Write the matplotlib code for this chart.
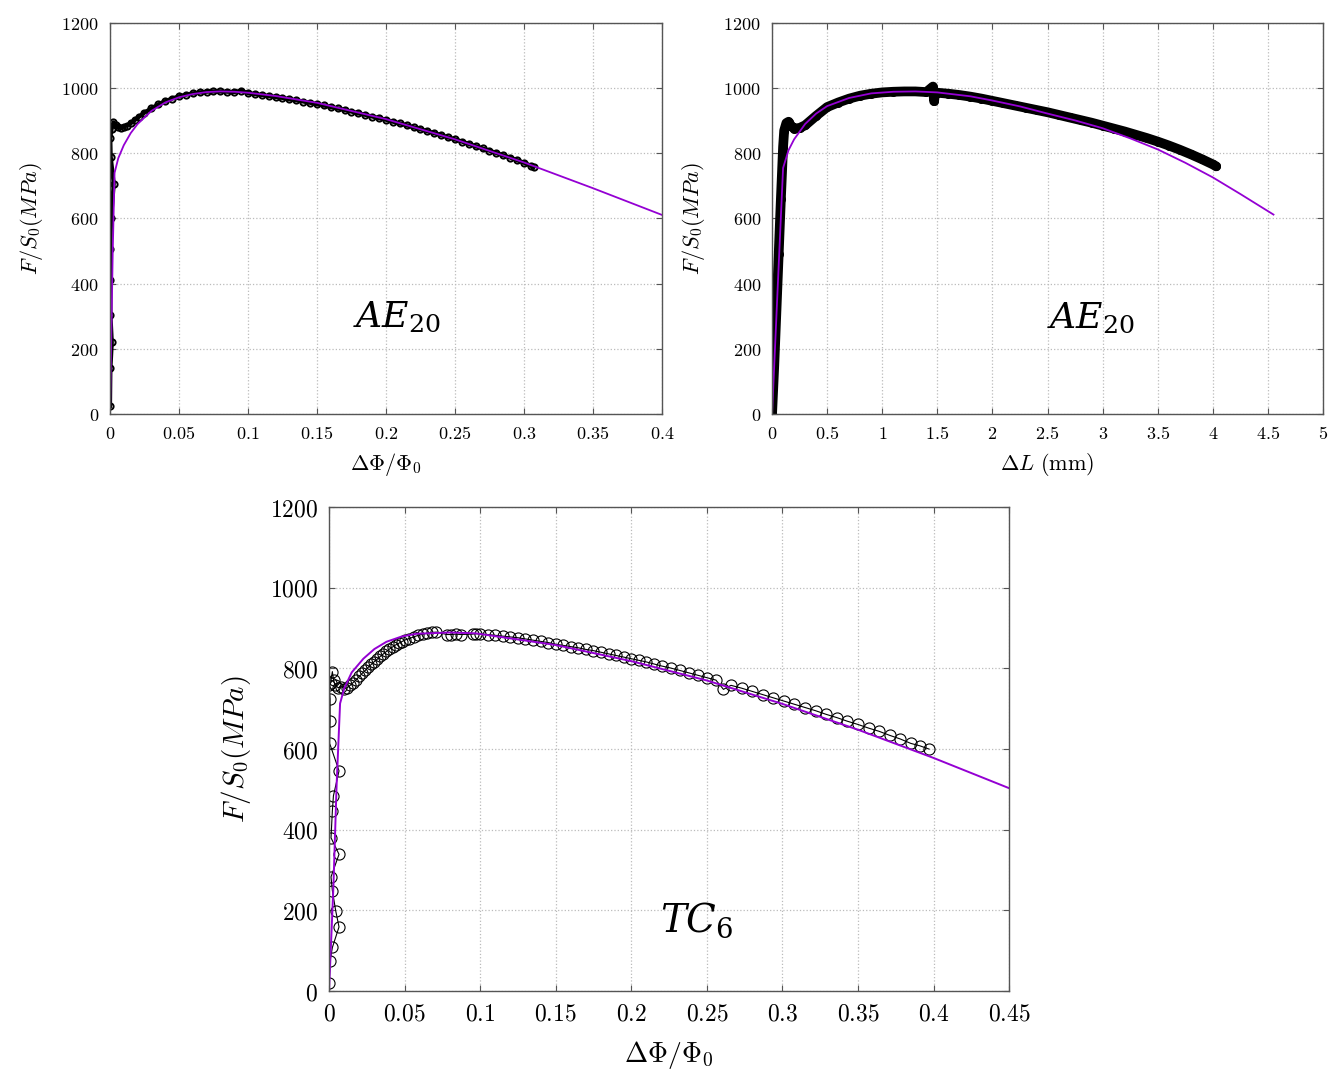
import numpy as np
import matplotlib.pyplot as plt
from matplotlib.ticker import FuncFormatter, MultipleLocator

plt.rcParams["mathtext.fontset"] = "cm"
plt.rcParams["font.family"] = ["DejaVu Serif"]

PURPLE = "#9400d3"

# AE20, strain in dPhi/Phi0 (measured)
ae_phi_x = [0.0, 0.0003, 0.0013, 0.0003, 0.0002, 0.0002, 0.0008, 0.0027, 0.0005, 0.0002, 0.0012, 0.0025,
            0.004, 0.006, 0.008, 0.010, 0.012, 0.015, 0.018, 0.021, 0.025, 0.030, 0.035, 0.040, 0.045,
            0.050, 0.055, 0.060, 0.065, 0.070, 0.075, 0.080, 0.085, 0.090, 0.095, 0.100, 0.105, 0.110,
            0.115, 0.120, 0.125, 0.130, 0.135, 0.140, 0.145, 0.150, 0.155, 0.160, 0.165, 0.170, 0.175,
            0.180, 0.185, 0.190, 0.195, 0.200, 0.205, 0.210, 0.215, 0.220, 0.225, 0.230, 0.235, 0.240,
            0.245, 0.250, 0.255, 0.260, 0.265, 0.270, 0.275, 0.280, 0.285, 0.290, 0.295, 0.300, 0.305, 0.307]
ae_phi_y = [25, 140, 220, 305, 410, 505, 600, 707, 790, 848, 875, 895,
            888, 880, 878, 882, 885, 892, 902, 912, 925, 938, 950, 960, 968,
            975, 980, 984, 987, 989, 990, 990, 989, 988, 992, 985, 982, 979,
            976, 973, 970, 966, 963, 959, 955, 951, 947, 942, 938, 933, 928,
            923, 918, 913, 908, 903, 897, 892, 886, 880, 874, 868, 862, 856,
            849, 843, 836, 829, 822, 815, 808, 801, 794, 787, 779, 771, 762, 758]
# AE20 model curve
ae_phi_fit_x = [0, 0.001, 0.002, 0.0033, 0.006, 0.01, 0.015, 0.02, 0.03, 0.04, 0.05, 0.06, 0.07,
                0.08, 0.09, 0.1, 0.12, 0.15, 0.2, 0.25, 0.3, 0.35, 0.4]
ae_phi_fit_y = [0, 250, 500, 740, 785, 825, 862, 890, 930, 956, 972, 982, 988,
                990, 989, 986, 976, 955, 905, 843, 772, 693, 611]

# AE20, elongation dL in mm (measured)
ae_dl_x = [0, 0.02, 0.04, 0.06, 0.08, 0.10, 0.11, 0.13, 0.15, 0.17, 0.20, 0.25, 0.30, 0.40, 0.50,
           0.60, 0.70, 0.80, 0.90, 1.00, 1.10, 1.20, 1.30, 1.40, 1.46, 1.47, 1.48, 1.50, 1.60, 1.70,
           1.80, 1.90, 2.00, 2.10, 2.20, 2.30, 2.40, 2.50, 2.60, 2.70, 2.80, 2.90, 3.00, 3.10, 3.20,
           3.30, 3.40, 3.50, 3.60, 3.70, 3.80, 3.90, 4.00, 4.03]
ae_dl_y = [0, 150, 320, 490, 660, 820, 870, 893, 897, 885, 876, 878, 886, 915, 942,
           956, 968, 977, 983, 987, 989, 990, 990, 988, 1005, 960, 985, 986, 983, 979,
           974, 968, 961, 954, 947, 940, 933, 926, 918, 910, 902, 894, 885, 876, 867,
           857, 847, 836, 824, 811, 797, 782, 766, 760]
ae_dl_fit_x = [0, 0.05, 0.1, 0.15, 0.2, 0.3, 0.4, 0.5, 0.7, 0.9, 1.1, 1.3, 1.5, 1.8, 2.0, 2.25,
               2.5, 2.75, 3.0, 3.25, 3.5, 3.75, 4.0, 4.25, 4.55]
ae_dl_fit_y = [0, 380, 755, 810, 843, 890, 922, 945, 970, 984, 989, 990, 987, 975, 962, 944,
               922, 901, 877, 846, 812, 771, 726, 675, 612]

# TC6, strain in dPhi/Phi0 (measured)
tc_x = [0.0, 0.0007, 0.0022, 0.0066, 0.0044, 0.0022, 0.0013, 0.0066, 0.0013, 0.0022, 0.0029, 0.0066,
        0.0004, 0.0007, 0.0007, 0.0, 0.001, 0.0022, 0.003, 0.004, 0.006,
        0.008, 0.010, 0.012, 0.014, 0.016, 0.018, 0.020, 0.022, 0.024, 0.026, 0.028, 0.030, 0.032,
        0.034, 0.036, 0.038, 0.040, 0.042, 0.044, 0.046, 0.048, 0.050, 0.053, 0.056, 0.059, 0.062,
        0.065, 0.068, 0.071, 0.078, 0.081, 0.084, 0.087, 0.095, 0.097,
        0.100, 0.105, 0.110, 0.115, 0.120, 0.125, 0.130, 0.135, 0.140, 0.145, 0.150, 0.155, 0.160,
        0.165, 0.170, 0.175, 0.180, 0.185, 0.190, 0.195, 0.200, 0.205, 0.210, 0.215, 0.220, 0.226,
        0.232, 0.238, 0.244, 0.250, 0.256, 0.261, 0.266, 0.273, 0.280, 0.287, 0.294, 0.301, 0.308,
        0.315, 0.322, 0.329, 0.336, 0.343, 0.350, 0.357, 0.364, 0.371, 0.378, 0.385, 0.391, 0.397]
tc_y = [19, 75, 108, 159, 199, 249, 283, 339, 380, 447, 484, 546,
        614, 670, 725, 759, 765, 792, 770, 760, 752,
        755, 750, 752, 758, 765, 772, 780, 788, 795, 803, 810, 817, 823,
        830, 836, 842, 848, 853, 858, 862, 866, 870, 874, 878, 882, 885,
        887, 889, 890, 884, 884, 885, 884, 885, 886,
        885, 884, 882, 880, 878, 876, 873, 870, 867, 864, 860, 857, 854,
        851, 847, 844, 840, 836, 832, 828, 824, 820, 816, 811, 806, 801,
        795, 789, 783, 777, 771, 748, 758, 751, 743, 735, 727, 719, 711,
        703, 695, 686, 678, 669, 661, 652, 644, 634, 625, 614, 608, 600]
tc_fit_x = [0, 0.0029, 0.005, 0.0073, 0.010, 0.015, 0.0227, 0.030, 0.038, 0.048, 0.058, 0.08, 0.097,
            0.15, 0.2, 0.25, 0.3, 0.35, 0.4, 0.45]
tc_fit_y = [0, 260, 510, 713, 750, 790, 824, 848, 866, 879, 886, 889, 887,
            858, 818, 770, 712, 648, 578, 503]

ylab = r"$F/S_0(MPa)$"
philab = r"$\Delta\Phi/\Phi_0$"


def num(v, pos):
    return "$%g$" % round(v, 6)


def style(ax, xmax, xstep, fs):
    ax.set_xlim(0, xmax)
    ax.set_ylim(0, 1200)
    ax.xaxis.set_major_locator(MultipleLocator(xstep))
    ax.yaxis.set_major_locator(MultipleLocator(200))
    ax.xaxis.set_major_formatter(FuncFormatter(num))
    ax.yaxis.set_major_formatter(FuncFormatter(num))
    ax.grid(True, color="#bbbbbb", linestyle=":", linewidth=0.9)
    ax.tick_params(direction="in", length=4, width=0.8, color="#555555", labelsize=fs,
                   top=True, right=True, pad=8)
    for s in ax.spines.values():
        s.set_color("#555555")
        s.set_linewidth(1.0)


fig = plt.figure(figsize=(13.3, 10.7), dpi=100)

ax1 = fig.add_axes([0.0827, 0.6131, 0.4150, 0.3654])
ax1.plot(ae_phi_x, ae_phi_y, color="black", linewidth=3, marker="o", markersize=4.5,
         markerfacecolor="none", markeredgewidth=1.4)
ax1.plot(ae_phi_fit_x, ae_phi_fit_y, color=PURPLE, linewidth=1.3)
style(ax1, 0.4, 0.05, 13)
ax1.set_xlabel(philab, fontsize=16, labelpad=6)
ax1.set_ylabel(ylab, fontsize=16, labelpad=12)
ax1.text(0.208, 300, r"$AE_{20}$", fontsize=26, ha="center", va="center",
         math_fontfamily="dejavuserif")

ax2 = fig.add_axes([0.5805, 0.6131, 0.4143, 0.3654])
ax2.plot(ae_dl_x, ae_dl_y, color="black", linewidth=7, solid_capstyle="round",
         marker="o", markersize=5, markerfacecolor="none", markeredgewidth=1.5)
ax2.plot(ae_dl_fit_x, ae_dl_fit_y, color=PURPLE, linewidth=1.3)
style(ax2, 5, 0.5, 13)
ax2.set_xlabel(r"$\Delta L\ \mathrm{(mm)}$", fontsize=16, labelpad=6)
ax2.set_ylabel(ylab, fontsize=16, labelpad=12)
ax2.text(2.89, 295, r"$AE_{20}$", fontsize=26, ha="center", va="center",
         math_fontfamily="dejavuserif")

ax3 = fig.add_axes([0.2474, 0.0738, 0.5113, 0.4523])
ax3.plot(tc_x, tc_y, color="black", linewidth=0.8, marker="o", markersize=8,
         markerfacecolor="none", markeredgewidth=0.8)
ax3.plot(tc_fit_x, tc_fit_y, color=PURPLE, linewidth=1.4)
style(ax3, 0.45, 0.05, 17)
ax3.set_xlabel(philab, fontsize=20, labelpad=10)
ax3.set_ylabel(ylab, fontsize=21, labelpad=12)
ax3.text(0.243, 176, r"$TC_6$", fontsize=28, ha="center", va="center",
         math_fontfamily="dejavuserif")

fig.savefig("out.png", dpi=100, facecolor="white")
